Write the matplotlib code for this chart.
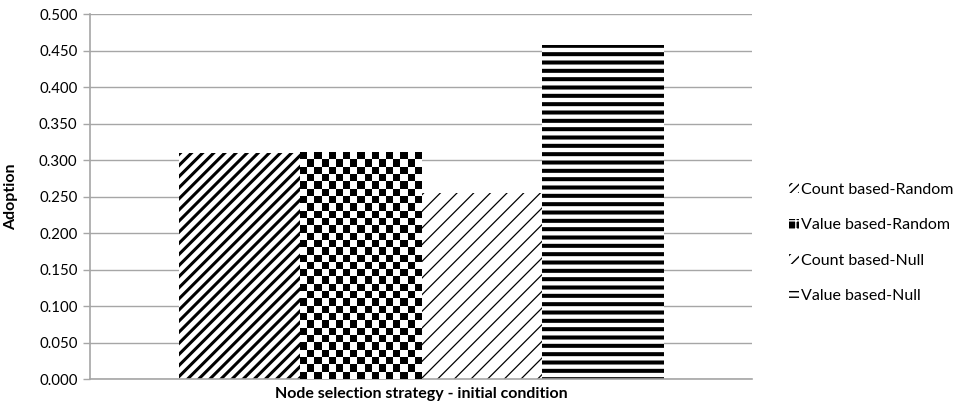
import matplotlib
matplotlib.use("Agg")
import matplotlib.pyplot as plt
import numpy as np
from matplotlib.patches import Patch

plt.rcParams['font.family'] = ['Lato', 'DejaVu Sans']

# datos
series = ["Count based-Random", "Value based-Random", "Count based-Null", "Value based-Null"]
adoption = [0.310, 0.310, 0.255, 0.458]
yticks = [0.0, 0.05, 0.1, 0.15, 0.2, 0.25, 0.3, 0.35, 0.4, 0.45, 0.5]

gris = "#a6a6a6"

fig = plt.figure(figsize=(9.58, 4.05), dpi=100)
ax = fig.add_axes([0.094, 0.064, 0.691, 0.901])
ax.set_xlim(-1.23, 4.23)
ax.set_ylim(0, 0.5)

x = np.arange(len(series))
estilos = [("///", 2.2), (None, 1.0), ("//", 0.9), ("--", 2.9)]
barras = []
for i in range(len(series)):
    hatch, lw = estilos[i]
    with plt.rc_context({'hatch.linewidth': lw}):
        b = ax.bar(x[i], adoption[i], width=1.0, color="white", edgecolor="black",
                   linewidth=0, hatch=hatch, zorder=2)
    if hasattr(b[0], "set_hatch_linewidth"):
        b[0].set_hatch_linewidth(lw)
    barras.append(b[0])

# tablero de ajedrez para la segunda barra
r = barras[1]
x0, y0 = r.get_x(), r.get_y()
x1, y1 = x0 + r.get_width(), y0 + r.get_height()
p0 = ax.transData.transform((x0, y0))
p1 = ax.transData.transform((x1, y1))
nc = int(round((p1[0] - p0[0]) / 7.2))
nf = int(round((p1[1] - p0[1]) / 7.2))
tablero = (np.add.outer(np.arange(nf), np.arange(nc)) % 2).astype(float)
ax.imshow(tablero, cmap="gray", extent=(x0, x1, y0, y1), aspect="auto",
          interpolation="nearest", zorder=3, origin="lower")
ax.set_xlim(-1.23, 4.23)
ax.set_ylim(0, 0.5)

ax.set_yticks(yticks)
ax.set_yticklabels(["%.3f" % v for v in yticks], fontsize=10.8)
ax.set_xticks([])
ax.yaxis.grid(True, color=gris, linewidth=1.0, zorder=0)
ax.set_axisbelow(True)
for s in ["top", "right"]:
    ax.spines[s].set_visible(False)
for s in ["left", "bottom"]:
    ax.spines[s].set_color(gris)
    ax.spines[s].set_linewidth(1.2)
ax.tick_params(axis="y", color=gris, length=5, width=1, pad=4)

ax.set_ylabel("Adoption", fontsize=11.5, fontweight="bold", labelpad=6)
ax.yaxis.set_label_coords(-0.108, 0.5)
ax.set_xlabel("Node selection strategy - initial condition", fontsize=11.5,
              fontweight="bold", labelpad=6)

# leyenda
with plt.rc_context({'hatch.linewidth': 1.2}):
    handles = [
        Patch(facecolor="white", edgecolor="black", hatch="////", linewidth=0),
        Patch(facecolor="black", edgecolor="white", hatch="++", linewidth=0),
        Patch(facecolor="white", edgecolor="black", hatch="///", linewidth=0),
        Patch(facecolor="white", edgecolor="black", hatch="---", linewidth=0),
    ]
leg = fig.legend(handles, series, loc="center left", bbox_to_anchor=(0.817, 0.40),
                 frameon=False, fontsize=11.5, handlelength=0.6, handleheight=0.6,
                 handletextpad=0.15, labelspacing=1.35, borderaxespad=0)

fig.savefig("out.png", dpi=100)
